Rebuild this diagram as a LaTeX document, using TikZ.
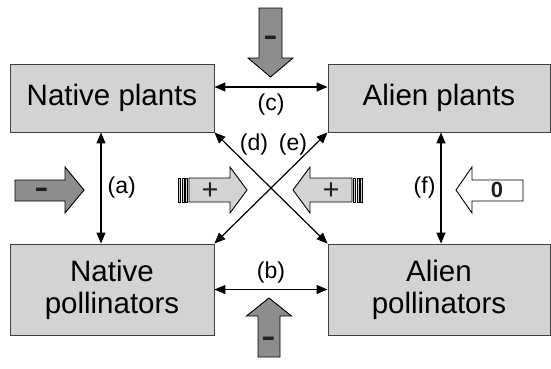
\documentclass[tikz,border=0pt]{standalone}
\usepackage{fontspec}
\setmainfont{Liberation Sans}
\usetikzlibrary{arrows.meta}
\definecolor{boxgray}{RGB}{209,211,212}
\definecolor{arrowgray}{RGB}{140,141,143}
\definecolor{edgegray}{RGB}{65,64,66}
\definecolor{signblack}{RGB}{35,31,32}
\begin{document}
\begin{tikzpicture}[x=1pt,y=-1pt,
        box/.style={draw=edgegray, line width=0.9pt, fill=boxgray, align=center, inner sep=0pt,
            font=\fontsize{29.5}{32}\selectfont},
        link/.style={{Triangle[length=11pt,width=9pt]}-{Triangle[length=11pt,width=9pt]}, line width=1.2pt},
        lbl/.style={inner sep=0pt, font=\fontsize{23}{24}\selectfont},
        darkarrow/.style={draw=black, line width=0.9pt, fill=arrowgray},
        lightarrow/.style={draw=black, line width=0.9pt, fill=boxgray},
        whitearrow/.style={draw=black, line width=0.9pt, fill=white},
        stripe/.style={draw=black, line width=0.5pt, fill=boxgray},
        sign/.style={inner sep=0pt, text=signblack}]
                    \useasboundingbox (0,0) rectangle (551,368);
                    \node[box, minimum width=204pt, minimum height=68pt] (nplants) at (112,98) {Native plants};
                    \node[box, minimum width=222pt, minimum height=68pt] (aplants) at (439,98) {Alien plants};
                    \node[box, minimum width=204pt, minimum height=91pt] (npoll) at (112,289.5) {Native\\pollinators};
                    \node[box, minimum width=222pt, minimum height=91pt] (apoll) at (439,289.5) {Alien\\pollinators};
                    \draw[link] ([xshift=-11pt]nplants.south) -- ([xshift=-11pt]npoll.north) node[lbl, midway, right=6pt] {(a)};
                    \draw[link] (npoll.east) -- (apoll.west) node[lbl, midway, above=6pt] {(b)};
                    \draw[link] ([yshift=11pt]nplants.east) -- ([yshift=11pt]aplants.west) node[lbl, midway, below=6pt] {(c)};
                    \draw[link] (nplants.south east) -- (apoll.north west);
                    \draw[link] (npoll.north east) -- (aplants.south west);
                    \draw[link] ([xshift=2pt]aplants.south) -- ([xshift=2pt]apoll.north) node[lbl, midway, left=5pt] {(f)};
                    \node[lbl] (dlabel) at (254,145) {(d)};
                    \node[lbl] (elabel) at (293,145) {(e)};
                    \draw[darkarrow] (259,8) -- (282,8) -- (282,58) -- (293,58) -- (270.5,77) -- (248,58) -- (259,58) -- cycle;
                    \node[sign, font=\fontsize{44}{44}\selectfont] (topsign) at (270.5,43) {-};
                    \draw[darkarrow] (258,357) -- (280,357) -- (280,316) -- (291.5,316) -- (269,298) -- (246.5,316) -- (258,316) -- cycle;
                    \node[sign, font=\fontsize{44}{44}\selectfont] (bottomsign) at (269,344) {-};
                    \draw[darkarrow] (15,180) -- (65,180) -- (65,167) -- (84,190) -- (65,213) -- (65,201) -- (15,201) -- cycle;
                    \node[sign, font=\fontsize{44}{44}\selectfont] (leftsign) at (42,195) {-};
                    \draw[lightarrow] (189,178) -- (230,178) -- (230,167) -- (247,190) -- (230,213) -- (230,202) -- (189,202) -- cycle;
                    \draw[stripe] (178.3,178) rectangle (180.3,202);
                    \draw[stripe] (182,178) rectangle (184,202);
                    \draw[stripe] (185.7,178) rectangle (187.7,202);
                    \node[sign, font=\fontsize{29}{29}\selectfont] (leftplus) at (210,191) {+};
                    \draw[lightarrow] (352,178) -- (310,178) -- (310,167) -- (293,190) -- (310,213) -- (310,202) -- (352,202) -- cycle;
                    \draw[stripe] (353.3,178) rectangle (355.3,202);
                    \draw[stripe] (357,178) rectangle (359,202);
                    \draw[stripe] (360.7,178) rectangle (362.7,202);
                    \node[sign, font=\fontsize{29}{29}\selectfont] (rightplus) at (331,191) {+};
                    \draw[whitearrow] (523,180) -- (472,180) -- (472,167) -- (456,190) -- (472,213) -- (472,201) -- (523,201) -- cycle;
                    \node[sign, font=\bfseries\fontsize{22}{22}\selectfont] (zerosign) at (497,190) {0};
\end{tikzpicture}
\end{document}
